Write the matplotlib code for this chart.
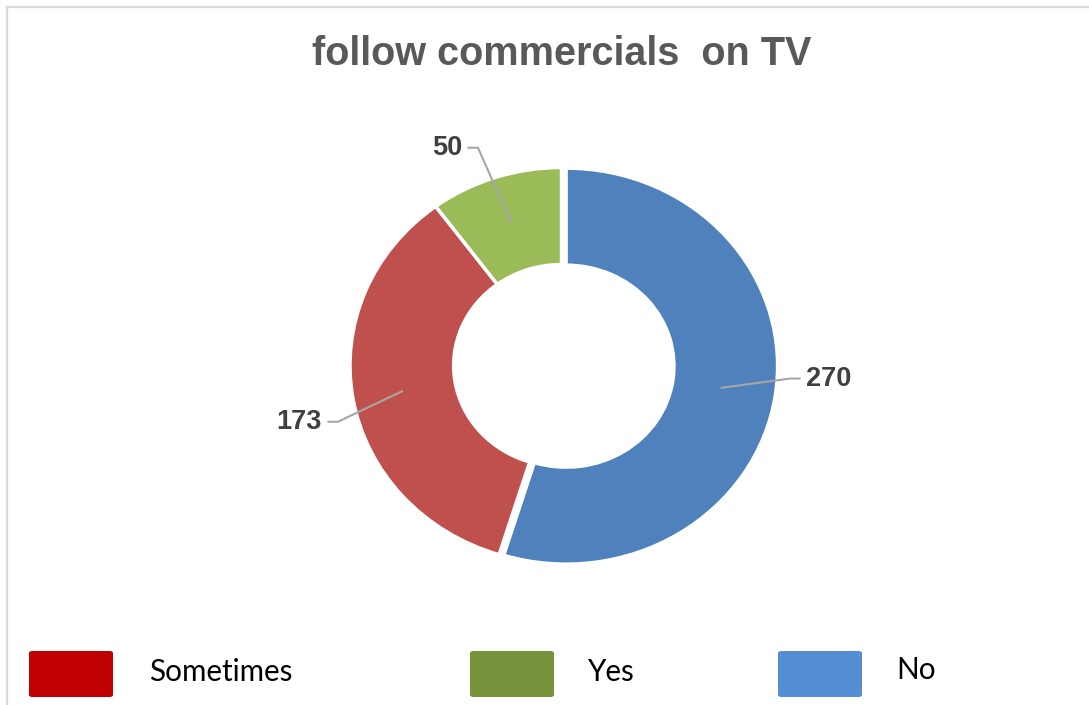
import matplotlib
matplotlib.use("Agg")
import matplotlib.pyplot as plt
import numpy as np
from matplotlib.patches import FancyBboxPatch
from matplotlib.lines import Line2D

# ---- data ----
categories = ["No", "Sometimes", "Yes"]
values = [270, 173, 50]
slice_colors = ["#4F81BD", "#C0504D", "#9BBB59"]
legend_labels = ["Sometimes", "Yes", "No"]
legend_colors = ["#C00000", "#77933C", "#558ED5"]
title = "follow commercials  on TV"

W, H = 1089, 705
fig = plt.figure(figsize=(W / 100, H / 100), dpi=100)
fig.patch.set_facecolor("white")

def fx(px):
    return px / W

def fy(py):
    return 1 - py / H

# axes geometry (pixels)
cx, cy = 561.5, 365.5
rx, ry = 211.5, 198.0
lim = 1.25
ax = fig.add_axes([fx(cx - lim * rx), fy(cy + lim * ry), 2 * lim * rx / W, 2 * lim * ry / H])

wedges, _ = ax.pie(values, startangle=90, counterclock=False, colors=slice_colors,
                   explode=[0.022, 0, 0],
                   wedgeprops=dict(width=0.49, edgecolor="white", linewidth=2.5))
ax.set_aspect("auto")
ax.set_xlim(-lim, lim)
ax.set_ylim(-lim, lim)
ax.axis("off")

# data labels with leader lines
elbows = [(1.080, -0.066), (-1.057, -0.284), (-0.395, 1.10)]
seg_dir = [1, -1, -1]
total = sum(values)
start = 90.0
for i, v in enumerate(values):
    ext = 360.0 * v / total
    mid = np.deg2rad(start - ext / 2)
    start -= ext
    ax_, ay_ = 0.76 * np.cos(mid), 0.76 * np.sin(mid)
    ex, ey = elbows[i]
    endx = ex + seg_dir[i] * 0.05
    ax.plot([ax_, ex, endx], [ay_, ey, ey], color="#A6A6A6", lw=1.5, solid_capstyle="butt")
    ax.text(endx + seg_dir[i] * 0.025, ey, str(v), ha="left" if seg_dir[i] > 0 else "right",
            va="center", fontsize=19.5, fontweight="bold", color="#404040",
            family="Liberation Sans")

# title
fig.text(fx(562), fy(65), title, ha="center", va="baseline", fontsize=28.5,
         fontweight="bold", color="#595959", family="Liberation Sans")

# legend (manual)
rect_x = [29, 470, 778]
text_x = [149, 587, 896]
text_base = [681, 681, 679]
for lab, col, rxp, txp, tb in zip(legend_labels, legend_colors, rect_x, text_x, text_base):
    p = FancyBboxPatch((fx(rxp), fy(697)), fx(84), 46 / H,
                       boxstyle="round,pad=0,rounding_size=0.003",
                       transform=fig.transFigure, facecolor=col, edgecolor="none")
    fig.add_artist(p)
    fig.text(fx(txp), fy(tb), lab, ha="left", va="baseline", fontsize=21.3,
             color="black", family="Lato")

# border lines
fig.add_artist(Line2D([fx(7), 1], [fy(7), fy(7)], color="#D9D9D9", lw=1.6,
                      transform=fig.transFigure))
fig.add_artist(Line2D([fx(7), fx(7)], [fy(7), 0], color="#D9D9D9", lw=1.6,
                      transform=fig.transFigure))

fig.savefig("out.png", dpi=100)
